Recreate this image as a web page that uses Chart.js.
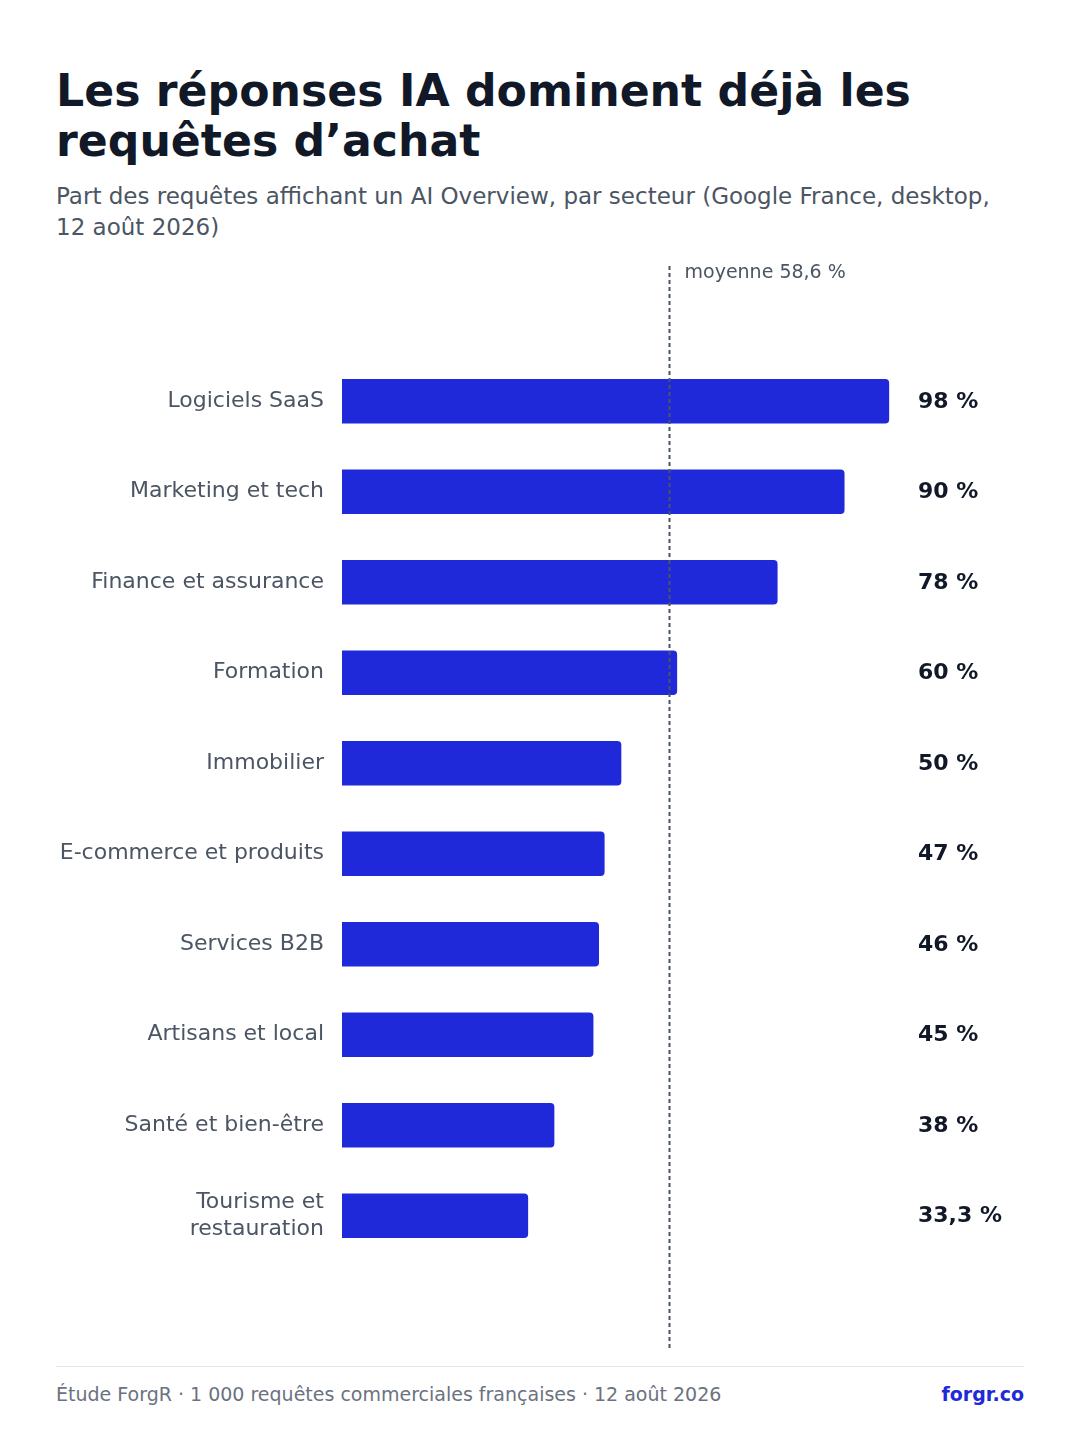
<!DOCTYPE html>
<html lang="fr">
<head>
<meta charset="utf-8">
<script src="https://cdn.jsdelivr.net/npm/chart.js@4"></script>
<style>
  html, body { margin: 0; padding: 0; background: #fff; }
  body { width: 1080px; height: 1440px; position: relative; font-family: "DejaVu Sans", sans-serif; }
  h1 { position: absolute; left: 56px; top: 66px; margin: 0; width: 960px;
       font-size: 44.2px; line-height: 50px; font-weight: bold; color: #111827; }
  .sub { position: absolute; left: 56px; top: 181px; margin: 0; width: 960px;
         font-size: 23px; line-height: 31px; color: #4b5563; }
  .chart { position: absolute; left: 56px; top: 256px; width: 968px; height: 1100px; }
  .rule { position: absolute; left: 56px; top: 1366px; width: 968px; height: 1px; background: #e5e7eb; }
  .foot { position: absolute; left: 56px; top: 1383px; font-size: 19px; color: #6b7280; }
  .brand { position: absolute; right: 56px; top: 1383px; font-size: 19px; font-weight: bold; color: #1f29d9; }
</style>
</head>
<body>
<h1>Les réponses IA dominent déjà les requêtes d’achat</h1>
<p class="sub">Part des requêtes affichant un AI Overview, par secteur (Google France, desktop, 12 août 2026)</p>
<div class="chart"><canvas id="c"></canvas></div>
<div class="rule"></div>
<div class="foot">Étude ForgR · 1 000 requêtes commerciales françaises · 12 août 2026</div>
<div class="brand">forgr.co</div>
<script>
const sectors = [
  'Logiciels SaaS', 'Marketing et tech', 'Finance et assurance', 'Formation',
  'Immobilier', 'E-commerce et produits', 'Services B2B', 'Artisans et local',
  'Santé et bien-être', ['Tourisme et', 'restauration']
];
const shares      = [98, 90, 78, 60, 50, 47, 46, 45, 38, 33.3];
const shareLabels = ['98 %', '90 %', '78 %', '60 %', '50 %', '47 %', '46 %', '45 %', '38 %', '33,3 %'];
const average      = 58.6;
const averageLabel = 'moyenne 58,6 %';

const FONT = '"DejaVu Sans", sans-serif';

// value text to the right of the plot area
const valueLabels = {
  id: 'valueLabels',
  afterDatasetsDraw(chart) {
    const { ctx, chartArea } = chart;
    const meta = chart.getDatasetMeta(0);
    ctx.save();
    ctx.font = `bold 22px ${FONT}`;
    ctx.fillStyle = '#111827';
    ctx.textAlign = 'left';
    ctx.textBaseline = 'middle';
    meta.data.forEach((bar, i) => ctx.fillText(shareLabels[i], chartArea.right + 18, bar.y + 1));
    ctx.restore();
  },
};

// dashed average marker, runs past the plot area top and bottom
const averageLine = {
  id: 'averageLine',
  afterDatasetsDraw(chart) {
    const { ctx, chartArea, scales } = chart;
    const x = Math.round(scales.x.getPixelForValue(average)) + 0.5;
    ctx.save();
    ctx.strokeStyle = '#4b5563';
    ctx.lineWidth = 2;
    ctx.setLineDash([4, 3]);
    ctx.beginPath();
    ctx.moveTo(x, chartArea.top - 90);
    ctx.lineTo(x, chartArea.bottom + 87);
    ctx.stroke();
    ctx.setLineDash([]);
    ctx.font = `19px ${FONT}`;
    ctx.fillStyle = '#4b5563';
    ctx.textAlign = 'left';
    ctx.textBaseline = 'middle';
    ctx.fillText(averageLabel, x + 15, chartArea.top - 83);
    ctx.restore();
  },
};

new Chart(document.getElementById('c'), {
  type: 'bar',
  data: {
    labels: sectors,
    datasets: [{
      data: shares,
      backgroundColor: '#1f29d9',
      borderRadius: { topLeft: 0, bottomLeft: 0, topRight: 4, bottomRight: 4 },
      borderSkipped: false,
      barThickness: 44,
    }],
  },
  options: {
    indexAxis: 'y',
    responsive: true,
    maintainAspectRatio: false,
    animation: false,
    layout: { padding: { top: 100, bottom: 95, right: 124, left: 0 } },
    scales: {
      x: { min: 0, max: 100, display: false, grid: { display: false } },
      y: {
        grid: { display: false },
        border: { display: false },
        ticks: {
          padding: 10,
          color: '#4b5563',
          font: { family: FONT, size: 22, lineHeight: 1.25 },
        },
        afterFit(scale) { scale.width = 286; },
      },
    },
    plugins: {
      legend: { display: false },
      tooltip: { enabled: false },
    },
  },
  plugins: [valueLabels, averageLine],
});
</script>
</body>
</html>
